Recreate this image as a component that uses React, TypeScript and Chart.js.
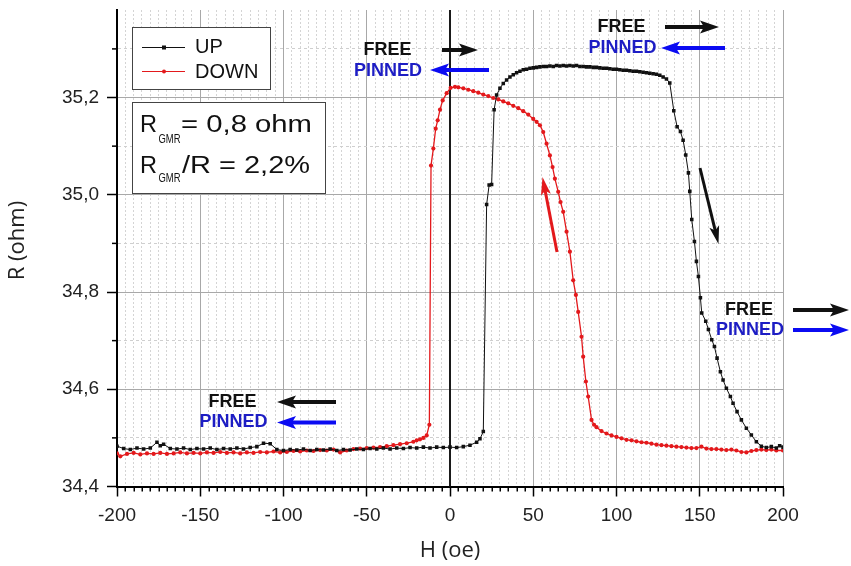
import React, { useEffect, useRef } from 'react';
import { Chart, registerables } from 'chart.js';

Chart.register(...registerables);

// ---------- data ----------
const upH = [
  -200, -196, -192, -188, -184, -180, -176, -174, -172, -168,
  -164, -160, -156, -152, -148, -144, -140, -136, -132, -128,
  -124, -120, -116, -112, -108, -104, -100, -96, -92, -88,
  -84, -80, -76, -72, -68, -64, -60, -56, -52, -48,
  -44, -40, -36, -32, -28, -24, -20, -16, -12, -8,
  -4, 0, 4, 8, 12, 16, 18, 20, 22, 23.5,
  25, 26.5, 28, 30, 32, 34, 36, 38, 40, 42,
  44, 46, 48, 50, 52, 54, 56, 58, 60, 62,
  64, 66, 68, 70, 72, 74, 76, 78, 80, 82,
  84, 86, 88, 90, 92, 94, 96, 98, 100, 102,
  104, 106, 108, 110, 112, 114, 116, 118, 120, 122,
  124, 126, 128, 130, 132, 134.4, 136.4, 138.4, 140, 141.6,
  143.2, 144, 145.2, 146.8, 148, 149.2, 150.4, 151.2, 153.6, 155.2,
  157.2, 158.8, 160.4, 162.4, 164, 166, 168.4, 170, 172.4, 175,
  178, 181, 184, 187, 190, 193, 196, 198, 200,
];
const upR = [
  34.483, 34.478, 34.476, 34.479, 34.477, 34.479, 34.491, 34.484, 34.487, 34.478,
  34.477, 34.479, 34.476, 34.478, 34.477, 34.479, 34.476, 34.478, 34.477, 34.479,
  34.477, 34.480, 34.482, 34.489, 34.488, 34.476, 34.474, 34.476, 34.475, 34.477,
  34.474, 34.476, 34.475, 34.477, 34.474, 34.476, 34.475, 34.477, 34.476, 34.478,
  34.477, 34.479, 34.477, 34.479, 34.478, 34.480, 34.479, 34.481, 34.479, 34.481,
  34.480, 34.481, 34.480, 34.482, 34.485, 34.491, 34.498, 34.513, 34.980, 35.020,
  35.021, 35.175, 35.205, 35.219, 35.229, 35.236, 35.242, 35.247, 35.251, 35.254,
  35.257, 35.258, 35.260, 35.261, 35.262, 35.263, 35.264, 35.264, 35.265, 35.264,
  35.266, 35.265, 35.266, 35.265, 35.266, 35.265, 35.266, 35.264, 35.264, 35.263,
  35.263, 35.262, 35.262, 35.261, 35.260, 35.260, 35.259, 35.258, 35.258, 35.257,
  35.256, 35.256, 35.255, 35.254, 35.254, 35.253, 35.252, 35.251, 35.250, 35.249,
  35.248, 35.246, 35.242, 35.238, 35.230, 35.173, 35.140, 35.130, 35.112, 35.082,
  35.045, 35.007, 34.949, 34.904, 34.863, 34.832, 34.788, 34.757, 34.740, 34.723,
  34.702, 34.688, 34.664, 34.636, 34.619, 34.602, 34.585, 34.571, 34.554, 34.537,
  34.520, 34.506, 34.492, 34.483, 34.480, 34.482, 34.479, 34.484, 34.481,
];
const downH = [
  -200, -198, -194, -190, -186, -182, -178, -174, -170, -166,
  -162, -158, -154, -150, -146, -142, -138, -134, -130, -126,
  -122, -118, -114, -110, -106, -102, -98, -94, -90, -86,
  -82, -78, -74, -70, -66, -62, -58, -54, -50, -46,
  -42, -38, -34, -30, -26, -22, -20, -18, -16, -14,
  -12.4, -11.4, -10, -8.6, -7.4, -6, -4.4, -2, 0.4, 3,
  5, 8, 11, 14, 17, 20, 23, 26, 29, 32,
  35, 38, 41, 44, 47, 50, 52, 54, 56, 58,
  60, 61.6, 63, 65, 66.4, 68, 70, 72, 74, 75.6,
  77, 79, 80, 81.6, 83, 85, 86.5, 88, 91, 94,
  97, 100, 103, 106, 109, 112, 115, 118, 121, 124,
  127, 130, 133, 136, 139, 142, 145, 148, 151, 154,
  157, 160, 163, 166, 169, 172, 175, 178, 181, 184,
  187, 190, 193, 196, 200,
];
const downR = [
  34.468, 34.462, 34.467, 34.469, 34.466, 34.468, 34.467, 34.469, 34.467, 34.468,
  34.470, 34.468, 34.469, 34.468, 34.470, 34.469, 34.471, 34.469, 34.470, 34.468,
  34.470, 34.469, 34.471, 34.470, 34.472, 34.470, 34.471, 34.473, 34.472, 34.474,
  34.473, 34.475, 34.474, 34.476, 34.470, 34.474, 34.477, 34.478, 34.479, 34.480,
  34.481, 34.483, 34.485, 34.487, 34.489, 34.492, 34.495, 34.497, 34.500, 34.505,
  34.527, 35.060, 35.095, 35.136, 35.153, 35.175, 35.194, 35.209, 35.220, 35.222,
  35.221, 35.219, 35.216, 35.213, 35.210, 35.206, 35.203, 35.199, 35.196, 35.192,
  35.188, 35.183, 35.178, 35.172, 35.165, 35.156, 35.150, 35.143, 35.129, 35.105,
  35.081, 35.057, 35.033, 35.006, 34.985, 34.965, 34.924, 34.883, 34.824, 34.794,
  34.759, 34.708, 34.667, 34.616, 34.585, 34.537, 34.527, 34.522, 34.514, 34.509,
  34.505, 34.502, 34.499, 34.496, 34.495, 34.493, 34.491, 34.490, 34.488, 34.486,
  34.485, 34.484, 34.483, 34.482, 34.481, 34.480, 34.479, 34.479, 34.482, 34.478,
  34.477, 34.477, 34.476, 34.475, 34.476, 34.474, 34.471, 34.470, 34.473, 34.475,
  34.476, 34.475, 34.476, 34.474, 34.474,
];

const seriesNames = ['UP', 'DOWN'];
const xRange = [-200, 200];
const yRange = [34.4, 35.38];
const xStep = 5;
const yStep = 0.1;
const xTitle = 'H (oe)';
const yTitle = 'R (ohm)';
const gmrSymbol = 'R';
const gmrSub = 'GMR';
const gmrLine1 = '= 0,8 ohm';
const gmrLine2 = '/R = 2,2%';
const freeText = 'FREE';
const pinnedText = 'PINNED';

// ---------- styles ----------
const BLACK = '#111111';
const RED = '#e3191c';
const BLUE = '#0b0bf2';
const BLUE_TEXT = '#1d1dc4';
const FONT = '"Liberation Sans", Arial, sans-serif';
const TITLE_FONT = '"Open Sans", "Liberation Sans", sans-serif';

const isMajorX = (v: number) => Math.round(v) % 50 === 0;
const isMajorY = (v: number) => Math.round(v * 10) % 2 === 0;

function drawArrow(ctx: CanvasRenderingContext2D, x1: number, y1: number, x2: number, y2: number,
  color: string, lw: number, hl: number, hw: number) {
  const a = Math.atan2(y2 - y1, x2 - x1);
  const bx = x2 - hl * Math.cos(a);
  const by = y2 - hl * Math.sin(a);
  ctx.save();
  ctx.strokeStyle = color;
  ctx.fillStyle = color;
  ctx.lineWidth = lw;
  ctx.lineCap = 'butt';
  ctx.beginPath();
  ctx.moveTo(x1, y1);
  ctx.lineTo(bx + 2 * Math.cos(a), by + 2 * Math.sin(a));
  ctx.stroke();
  const nx = Math.sin(a), ny = -Math.cos(a);
  const back = 3;
  ctx.beginPath();
  ctx.moveTo(x2, y2);
  ctx.lineTo(bx - back * Math.cos(a) + (hw / 2) * nx, by - back * Math.sin(a) + (hw / 2) * ny);
  ctx.lineTo(bx + 1 * Math.cos(a), by + 1 * Math.sin(a));
  ctx.lineTo(bx - back * Math.cos(a) - (hw / 2) * nx, by - back * Math.sin(a) - (hw / 2) * ny);
  ctx.closePath();
  ctx.fill();
  ctx.restore();
}

function stretchText(ctx: CanvasRenderingContext2D, text: string, x: number, y: number, w: number) {
  const m = ctx.measureText(text).width;
  ctx.save();
  ctx.translate(x, y);
  ctx.scale(w / m, 1);
  ctx.fillText(text, 0, 0);
  ctx.restore();
}

const labels = [
  { text: freeText, x: 387.5, y: 50, color: BLACK },
  { text: pinnedText, x: 388, y: 71, color: BLUE_TEXT },
  { text: freeText, x: 621.5, y: 27, color: BLACK },
  { text: pinnedText, x: 622.5, y: 48, color: BLUE_TEXT },
  { text: freeText, x: 749, y: 310, color: BLACK },
  { text: pinnedText, x: 750, y: 330, color: BLUE_TEXT },
  { text: freeText, x: 232.5, y: 402, color: BLACK },
  { text: pinnedText, x: 233.5, y: 422.5, color: BLUE_TEXT },
];

const arrows = [
  { x1: 442, y1: 50, x2: 478, y2: 50, color: BLACK, lw: 4, hl: 16, hw: 13 },
  { x1: 489, y1: 70, x2: 430, y2: 70, color: BLUE, lw: 4, hl: 16, hw: 13 },
  { x1: 665, y1: 27, x2: 719, y2: 27, color: BLACK, lw: 4, hl: 16, hw: 13 },
  { x1: 725, y1: 48, x2: 661, y2: 48, color: BLUE, lw: 4, hl: 16, hw: 13 },
  { x1: 793, y1: 310, x2: 849, y2: 310, color: BLACK, lw: 4, hl: 16, hw: 13 },
  { x1: 793, y1: 330, x2: 849, y2: 330, color: BLUE, lw: 4, hl: 16, hw: 13 },
  { x1: 336, y1: 402, x2: 277, y2: 402, color: BLACK, lw: 4, hl: 16, hw: 13 },
  { x1: 336, y1: 422.5, x2: 277, y2: 422.5, color: BLUE, lw: 4, hl: 16, hw: 13 },
  { x1: 557, y1: 252, x2: 542.5, y2: 177, color: RED, lw: 3, hl: 15, hw: 10 },
  { x1: 700, y1: 168, x2: 718.5, y2: 244, color: BLACK, lw: 3, hl: 15, hw: 10 },
];

const decorPlugin = {
  id: 'decor',
  beforeDatasetsDraw(chart: any) {
    const { ctx, chartArea, scales } = chart;
    const px = scales.x.getPixelForValue(0);
    ctx.save();
    ctx.strokeStyle = '#1a1a1a';
    ctx.lineWidth = 2;
    ctx.beginPath();
    ctx.moveTo(px, chartArea.top);
    ctx.lineTo(px, chartArea.bottom);
    ctx.stroke();
    ctx.restore();
  },
  afterDraw(chart: any) {
    const { ctx, chartArea: ca, scales } = chart;
    const xs = scales.x;
    const ys = scales.y;
    ctx.save();
    // minor tick marks
    ctx.strokeStyle = '#000';
    ctx.lineWidth = 1.5;
    xs.ticks.forEach((t: any, i: number) => {
      if (!isMajorX(t.value)) {
        const p = Math.round(xs.getPixelForTick(i)) + 0.25;
        ctx.beginPath();
        ctx.moveTo(p, ca.bottom);
        ctx.lineTo(p, ca.bottom + 5);
        ctx.stroke();
      }
    });
    ys.ticks.forEach((t: any, i: number) => {
      if (!isMajorY(t.value)) {
        const p = ys.getPixelForTick(i);
        ctx.beginPath();
        ctx.moveTo(ca.left - 5, p);
        ctx.lineTo(ca.left, p);
        ctx.stroke();
      }
    });

    // legend box
    ctx.fillStyle = '#fff';
    ctx.fillRect(132, 27, 138, 62);
    ctx.strokeStyle = '#444';
    ctx.lineWidth = 1;
    ctx.strokeRect(132.5, 27.5, 138, 62);
    ctx.lineWidth = 1;
    ctx.strokeStyle = BLACK;
    ctx.beginPath();
    ctx.moveTo(142, 47.5);
    ctx.lineTo(185, 47.5);
    ctx.stroke();
    ctx.fillStyle = BLACK;
    ctx.fillRect(162, 45.5, 4, 4);
    ctx.strokeStyle = RED;
    ctx.beginPath();
    ctx.moveTo(142, 71.5);
    ctx.lineTo(185, 71.5);
    ctx.stroke();
    ctx.fillStyle = RED;
    ctx.beginPath();
    ctx.arc(164, 71.5, 2, 0, Math.PI * 2);
    ctx.fill();
    ctx.fillStyle = '#111';
    ctx.font = `20px ${FONT}`;
    ctx.textAlign = 'left';
    ctx.textBaseline = 'middle';
    ctx.fillText(seriesNames[0], 195, 47.5);
    ctx.fillText(seriesNames[1], 195, 72);

    // GMR box
    ctx.fillStyle = '#fff';
    ctx.fillRect(132, 102, 193, 91);
    ctx.strokeStyle = '#444';
    ctx.strokeRect(132.5, 102.5, 193, 91);
    ctx.fillStyle = '#111';
    ctx.textBaseline = 'alphabetic';
    ctx.font = `23px ${FONT}`;
    stretchText(ctx, gmrSymbol, 140, 131.7, 17);
    stretchText(ctx, gmrLine1, 181, 131.7, 131);
    stretchText(ctx, gmrSymbol, 140, 173.3, 17);
    stretchText(ctx, gmrLine2, 182, 173.3, 128);
    ctx.font = `13px ${FONT}`;
    stretchText(ctx, gmrSub, 158.5, 142.5, 22);
    stretchText(ctx, gmrSub, 158.5, 182, 22);

    // FREE / PINNED labels
    ctx.font = `bold 18px ${FONT}`;
    ctx.textAlign = 'center';
    ctx.textBaseline = 'middle';
    labels.forEach((l) => {
      ctx.fillStyle = l.color;
      ctx.fillText(l.text, l.x, l.y);
    });
    arrows.forEach((a) => drawArrow(ctx, a.x1, a.y1, a.x2, a.y2, a.color, a.lw, a.hl, a.hw));

    // y axis title
    ctx.save();
    ctx.translate(17.5, 240.5);
    ctx.rotate(-Math.PI / 2);
    ctx.font = `22px ${TITLE_FONT}`;
    ctx.fillStyle = '#222';
    ctx.textAlign = 'center';
    ctx.textBaseline = 'middle';
    ctx.fillText(yTitle, 0, 0);
    ctx.restore();

    ctx.restore();
  },
};

export default function App() {
  const ref = useRef<HTMLCanvasElement>(null);
  useEffect(() => {
    if (!ref.current) return;
    const upData = upH.map((h, i) => ({ x: h, y: upR[i] }));
    const downData = downH.map((h, i) => ({ x: h, y: downR[i] }));
    const chart = new Chart(ref.current, {
      type: 'scatter',
      data: {
        datasets: [
          {
            label: seriesNames[0],
            data: upData,
            showLine: true,
            borderColor: BLACK,
            backgroundColor: BLACK,
            borderWidth: 1,
            pointStyle: 'rect',
            pointRadius: 2.5,
            pointBorderWidth: 0,
          },
          {
            label: seriesNames[1],
            data: downData,
            showLine: true,
            borderColor: RED,
            backgroundColor: RED,
            borderWidth: 1.3,
            pointStyle: 'circle',
            pointRadius: 2.1,
            pointBorderWidth: 0,
          },
        ],
      },
      options: {
        responsive: false,
        animation: false,
        layout: { padding: { top: 10, right: 68, left: 0, bottom: 0 } },
        plugins: { legend: { display: false }, tooltip: { enabled: false } },
        scales: {
          x: {
            type: 'linear',
            min: xRange[0],
            max: xRange[1],
            afterFit: (s: any) => {
              s.height = 79.5;
              s.paddingLeft = 0;
              s.paddingRight = 0;
            },
            ticks: {
              stepSize: xStep,
              autoSkip: false,
              maxRotation: 0,
              includeBounds: false,
              padding: 8,
              color: '#222',
              font: { family: FONT, size: 19 },
              callback: (v: any) => (isMajorX(Number(v)) ? String(v) : ''),
            },
            grid: {
              color: (c: any) => (c.tick && isMajorX(c.tick.value) ? '#a8a8a8' : '#d4d4d4'),
              lineWidth: 1,
              drawTicks: true,
              tickLength: 10,
              tickWidth: 1.5,
              tickColor: (c: any) => (c.tick && isMajorX(c.tick.value) ? '#000' : 'rgba(0,0,0,0)'),
            },
            border: {
              color: '#000',
              width: 2,
              dash: (c: any) => (c.tick && !isMajorX(c.tick.value) ? [2, 2] : []),
            },
            title: {
              display: true,
              text: xTitle,
              color: '#222',
              font: { family: TITLE_FONT, size: 22 },
              padding: { top: 0, bottom: 2 },
            },
          },
          y: {
            type: 'linear',
            min: yRange[0],
            max: yRange[1],
            afterFit: (s: any) => {
              s.width = 117;
              s.paddingTop = 0;
              s.paddingBottom = 0;
            },
            ticks: {
              stepSize: yStep,
              autoSkip: false,
              includeBounds: false,
              padding: 8,
              color: '#222',
              font: { family: FONT, size: 19 },
              callback: (v: any) => (isMajorY(Number(v)) ? Number(v).toFixed(1).replace('.', ',') : ''),
            },
            grid: {
              color: (c: any) => (c.tick && isMajorY(c.tick.value) ? '#a8a8a8' : '#cfcfcf'),
              lineWidth: 1,
              drawTicks: true,
              tickLength: 10,
              tickWidth: 1.5,
              tickColor: (c: any) => (c.tick && isMajorY(c.tick.value) ? '#000' : 'rgba(0,0,0,0)'),
            },
            border: {
              color: '#000',
              width: 2,
              dash: (c: any) => (c.tick && !isMajorY(c.tick.value) ? [3, 3] : []),
            },
          },
        },
      },
      plugins: [decorPlugin],
    } as any);
    return () => chart.destroy();
  }, []);

  return (
    <div style={{ position: 'absolute', left: 0, top: 0, width: 851, height: 566, background: '#fff' }}>
      <canvas ref={ref} width={851} height={566} style={{ display: 'block' }} />
    </div>
  );
}
